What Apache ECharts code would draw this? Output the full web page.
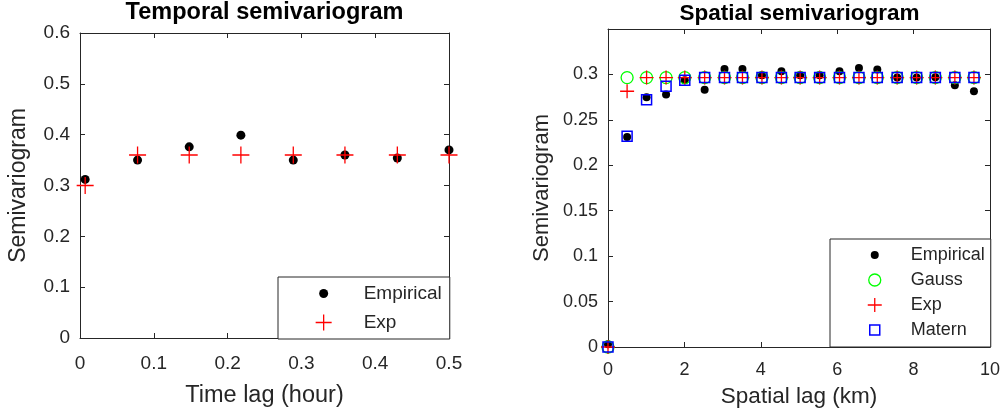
<!DOCTYPE html>
<html>
<head>
<meta charset="utf-8">
<script src="https://cdn.jsdelivr.net/npm/echarts@6.0.0/dist/echarts.min.js"></script>
<style>
  html, body { margin: 0; padding: 0; background: #fff; }
  #chart { width: 1003px; height: 414px; }
</style>
</head>
<body>
<div id="chart"></div>
<script>
// temporal semivariogram, lag in hours
const timeLag = [0.007, 0.078, 0.148, 0.218, 0.289, 0.359, 0.430, 0.500]
const timeEmpirical = [0.312, 0.350, 0.376, 0.399, 0.350, 0.360, 0.354, 0.370]
const timeExp = [0.300, 0.360, 0.360, 0.360, 0.360, 0.360, 0.360, 0.360]

// spatial semivariogram, lag in km
const spaceLag = [
  0, 0.50, 1.01, 1.52, 2.01, 2.53, 3.05, 3.52, 4.03, 4.54,
  5.03, 5.54, 6.06, 6.57, 7.05, 7.57, 8.08, 8.57, 9.08, 9.58,
]
const spaceEmpirical = [
  0.003, 0.231, 0.275, 0.278, 0.2935, 0.283, 0.306, 0.306, 0.299, 0.3035,
  0.299, 0.299, 0.3035, 0.307, 0.3055, 0.2965, 0.2965, 0.297, 0.288, 0.2815,
]
const spaceGauss = [
  0, 0.2965, 0.2965, 0.2965, 0.2965, 0.2965, 0.2965, 0.2965, 0.2965, 0.2965,
  0.2965, 0.2965, 0.2965, 0.2965, 0.2965, 0.2965, 0.2965, 0.2965, 0.2965, 0.2965,
]
const spaceExp = [
  0, 0.2815, 0.2965, 0.2965, 0.2965, 0.2965, 0.2965, 0.2965, 0.2965, 0.2965,
  0.2965, 0.2965, 0.2965, 0.2965, 0.2965, 0.2965, 0.2965, 0.2965, 0.2965, 0.2965,
]
const spaceMatern = [
  0, 0.232, 0.272, 0.287, 0.2935, 0.2965, 0.2965, 0.2965, 0.2965, 0.2965,
  0.2965, 0.2965, 0.2965, 0.2965, 0.2965, 0.2965, 0.2965, 0.2965, 0.2965, 0.2965,
]

const font = "'Liberation Sans', Arial, Helvetica, sans-serif"
const ink = '#262626'
const plus = 'path://M0,8H16M8,0V16'

const pairs = (xs, ys) => xs.map((x, i) => [x, ys[i]])

// MATLAB style box: ticks inside on all four sides, labels only bottom/left
function axis(gridIndex, position, min, max, interval, extra) {
  return Object.assign({
    type: 'value',
    gridIndex,
    position,
    min,
    max,
    interval,
    axisLine: { show: true, onZero: false, lineStyle: { color: ink, width: 1 } },
    axisTick: { show: true, inside: true, length: 5, lineStyle: { color: ink } },
    axisLabel: { show: false },
    splitLine: { show: false },
  }, extra)
}

function label(size, margin, formatter) {
  return { show: true, fontSize: size, margin, color: ink, fontFamily: font, formatter }
}

function nameStyle(size) {
  return { fontSize: size, color: ink, fontFamily: font }
}

function marker(name, x, y, xi, symbol, size, style) {
  return {
    name,
    type: 'scatter',
    xAxisIndex: xi,
    yAxisIndex: xi,
    data: pairs(x, y),
    symbol,
    symbolSize: size,
    itemStyle: style,
    clip: false,
    emphasis: { disabled: true },
  }
}

// scatter defaults to 0.8 opacity, the reference markers are solid
const dot = { color: '#000', opacity: 1 }
const redPlus = { color: 'transparent', borderColor: '#ff0000', borderWidth: 1.3, opacity: 1 }
const greenRing = { color: 'transparent', borderColor: '#00ff00', borderWidth: 1.3, opacity: 1 }
const blueBox = { color: 'transparent', borderColor: '#0000ff', borderWidth: 1.5, opacity: 1 }

const legendBox = {
  orient: 'vertical',
  selectedMode: false,
  backgroundColor: '#fff',
  borderColor: ink,
  borderWidth: 1,
  borderRadius: 0,
}

const chart = echarts.init(document.getElementById('chart'))
chart.setOption({
  animation: false,
  backgroundColor: '#fff',
  title: [
    {
      text: 'Temporal semivariogram',
      left: 264.5,
      top: 1,
      padding: 0,
      textAlign: 'center',
      textStyle: { fontSize: 23.5, fontWeight: 'bold', color: '#000', fontFamily: font },
    },
    {
      text: 'Spatial semivariogram',
      left: 799.5,
      top: 2,
      padding: 0,
      textAlign: 'center',
      textStyle: { fontSize: 22.5, fontWeight: 'bold', color: '#000', fontFamily: font },
    },
  ],
  grid: [
    { left: 80, top: 33, width: 369, height: 305 },
    { left: 608, top: 29, width: 383, height: 318 },
  ],
  xAxis: [
    axis(0, 'bottom', 0, 0.5, 0.1, {
      axisLabel: label(19, 16),
      name: 'Time lag (hour)',
      nameLocation: 'middle',
      nameGap: 46,
      nameTextStyle: nameStyle(23.5),
    }),
    axis(0, 'top', 0, 0.5, 0.1),
    axis(1, 'bottom', 0, 10, 2, {
      axisLabel: label(18, 14),
      name: 'Spatial lag (km)',
      nameLocation: 'middle',
      nameGap: 38,
      nameTextStyle: nameStyle(22.5),
    }),
    axis(1, 'top', 0, 10, 2),
  ],
  yAxis: [
    axis(0, 'left', 0, 0.6, 0.1, {
      axisLabel: label(19, 10),
      name: 'Semivariogram',
      nameLocation: 'middle',
      nameGap: 50,
      nameTextStyle: nameStyle(23),
    }),
    axis(0, 'right', 0, 0.6, 0.1),
    axis(1, 'left', 0, 0.35, 0.05, {
      axisLabel: label(18, 10, v => (v > 0.345 ? '' : String(+v.toFixed(2)))),
      name: 'Semivariogram',
      nameLocation: 'middle',
      nameGap: 55,
      nameTextStyle: nameStyle(22),
    }),
    axis(1, 'right', 0, 0.35, 0.05),
  ],
  legend: [
    Object.assign({}, legendBox, {
      left: 278,
      top: 277,
      padding: [7, 8, 7, 37],
      itemWidth: 16,
      itemHeight: 16,
      itemGap: 10,
      textStyle: { fontSize: 19, color: ink, fontFamily: font, padding: [0, 0, 0, 27] },
      data: [
        { name: 'Empirical', icon: 'path://M0,0M16,16M12.5,8A4.5,4.5,0,1,1,3.5,8A4.5,4.5,0,1,1,12.5,8Z', itemStyle: dot },
        { name: 'Exp', icon: plus, itemStyle: redPlus },
      ],
    }),
    Object.assign({}, legendBox, {
      left: 830,
      top: 239,
      padding: [7, 6, 8, 37],
      itemWidth: 14,
      itemHeight: 14,
      itemGap: 7,
      textStyle: { fontSize: 18, color: ink, fontFamily: font, padding: [0, 0, 0, 24] },
      data: [
        { name: 'Empirical', icon: 'path://M0,0M14,14M11,7A4,4,0,1,1,3,7A4,4,0,1,1,11,7Z', itemStyle: dot },
        { name: 'Gauss', icon: 'path://M0,0M14,14M13,7A6,6,0,1,1,1,7A6,6,0,1,1,13,7Z', itemStyle: greenRing },
        { name: 'Exp', icon: 'path://M0,7H14M7,0V14', itemStyle: redPlus },
        { name: 'Matern', icon: 'path://M0,0M14,14M2,2H12V12H2Z', itemStyle: blueBox },
      ],
    }),
  ],
  series: [
    marker('Empirical', timeLag, timeEmpirical, 0, 'circle', 9, dot),
    marker('Exp', timeLag, timeExp, 0, plus, 17, redPlus),
    marker('Empirical', spaceLag, spaceEmpirical, 2, 'circle', 8, dot),
    marker('Gauss', spaceLag, spaceGauss, 2, 'circle', 12, greenRing),
    marker('Exp', spaceLag, spaceExp, 2, plus, 14, redPlus),
    marker('Matern', spaceLag, spaceMatern, 2, 'rect', 10, blueBox),
  ],
})
</script>
</body>
</html>
